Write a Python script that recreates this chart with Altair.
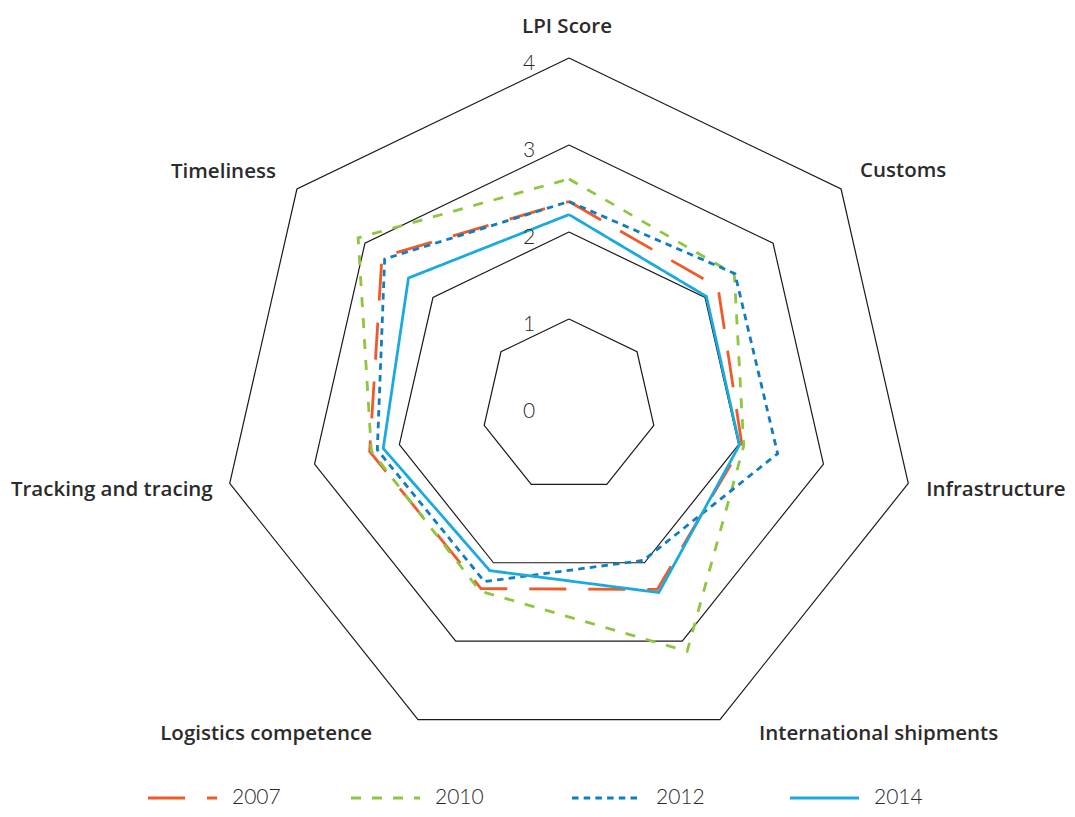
import altair as alt
import pandas as pd

# ---------------- data ----------------
AXES = ["LPI Score", "Customs", "Infrastructure", "International shipments",
        "Logistics competence", "Tracking and tracing", "Timeliness"]
YEARS = ["2007", "2010", "2012", "2014"]
V2007 = [2.35, 2.19, 2.04, 2.34, 2.33, 2.35, 2.75]
V2010 = [2.61, 2.43, 2.06, 3.13, 2.36, 2.33, 3.10]
V2012 = [2.35, 2.44, 2.46, 1.97, 2.24, 2.26, 2.71]
V2014 = [2.20, 2.02, 2.01, 2.38, 2.10, 2.19, 2.36]
GRID_LEVELS = [1, 2, 3, 4]
LEVEL_TICKS = [0, 1, 2, 3, 4]

# ---------------- style / layout ----------------
COLORS = ["#F05A28", "#8DC63F", "#0E7DC2", "#1AAAE0"]
DASHES = [[37, 22], [10, 11], [6.5, 5.2], [1, 0]]
W, H = 1059, 801
U = 87.0                 # pixels per score unit
CX, CY = 561.0, 398.0    # centre of the radar in svg pixels
XMIN, XMAX = -CX / U, (W - CX) / U
YMIN, YMAX = -(H - CY) / U, CY / U
FONT = "Lato"
LABEL_FONT = "Open Sans"
# per-label placement: (align, dx, dy) relative to the outer (4) vertex
LABEL_LAYOUT = {
    "LPI Score": ("center", -2, -31),
    "Customs": ("left", 19, -18),
    "Infrastructure": ("left", 18, 7),
    "International shipments": ("left", 39, 14),
    "Logistics competence": ("right", -46, 14),
    "Tracking and tracing": ("right", -17, 7),
    "Timeliness": ("right", -21, -17),
}
LEGEND_X = [140, 343, 564, 782]   # svg px where each legend symbol starts
LEGEND_SYM = 69
LEGEND_GAP = 15
LEGEND_Y = 790

# ---------------- tables ----------------
series_vals = [V2007, V2010, V2012, V2014]
rows = []
for y, vals in zip(YEARS, series_vals):
    for i in range(len(AXES) + 1):
        k = i % len(AXES)
        rows.append({"year": y, "i": i, "k": k, "v": vals[k]})
series_df = pd.DataFrame(rows)

grid_rows = []
for lv in GRID_LEVELS:
    for i in range(len(AXES) + 1):
        grid_rows.append({"level": lv, "i": i, "k": i % len(AXES), "v": lv})
grid_df = pd.DataFrame(grid_rows)

tick_df = pd.DataFrame({"r": LEVEL_TICKS, "t": [str(t) for t in LEVEL_TICKS]})
axis_df = pd.DataFrame({"axis": AXES, "k": list(range(len(AXES))), "v": [4] * len(AXES)})

legend_df = pd.DataFrame({
    "year": YEARS,
    "x0": [XMIN + x / U for x in LEGEND_X],
    "x1": [XMIN + (x + LEGEND_SYM) / U for x in LEGEND_X],
    "xt": [XMIN + (x + LEGEND_SYM + LEGEND_GAP) / U for x in LEGEND_X],
    "ly": [YMAX - LEGEND_Y / U] * len(YEARS),
})

xs = alt.Scale(domain=[XMIN, XMAX], nice=False, zero=False)
ys = alt.Scale(domain=[YMIN, YMAX], nice=False, zero=False)
cs = alt.Scale(domain=YEARS, range=COLORS)
ds = alt.Scale(domain=YEARS, range=DASHES)
N = len(AXES)
XEXPR = f"datum.v * sin(2 * PI * datum.k / {N})"
YEXPR = f"datum.v * cos(2 * PI * datum.k / {N})"

grid = alt.Chart(grid_df).transform_calculate(px=XEXPR, py=YEXPR).mark_line(
    color="#1a1a1a", strokeWidth=1.2
).encode(
    x=alt.X("px:Q", scale=xs, axis=None),
    y=alt.Y("py:Q", scale=ys, axis=None),
    detail="level:N",
    order="i:Q",
)

series = alt.Chart(series_df).transform_calculate(px=XEXPR, py=YEXPR).mark_line(
    strokeWidth=2.8
).encode(
    x=alt.X("px:Q", scale=xs, axis=None),
    y=alt.Y("py:Q", scale=ys, axis=None),
    color=alt.Color("year:N", scale=cs, legend=None),
    strokeDash=alt.StrokeDash("year:N", scale=ds, legend=None),
    order="i:Q",
)

ticks = alt.Chart(tick_df).transform_calculate(px="0").mark_text(
    font=FONT, fontSize=21, fontWeight=300, color="#2a2a2a",
    dx=-40, dy=6, baseline="middle", align="center"
).encode(
    x=alt.X("px:Q", scale=xs, axis=None),
    y=alt.Y("r:Q", scale=ys, axis=None),
    text="t:N",
)

label_layers = []
for name in AXES:
    al, dx, dy = LABEL_LAYOUT[name]
    label_layers.append(
        alt.Chart(axis_df).transform_filter(alt.datum.axis == name)
        .transform_calculate(px=XEXPR, py=YEXPR)
        .mark_text(font=LABEL_FONT, fontSize=20.5, fontWeight=600, color="#2b2b2b",
                   align=al, baseline="middle", dx=dx, dy=dy)
        .encode(
            x=alt.X("px:Q", scale=xs, axis=None),
            y=alt.Y("py:Q", scale=ys, axis=None),
            text="axis:N",
        )
    )

leg_sym = alt.Chart(legend_df).mark_rule(strokeWidth=2.8).encode(
    x=alt.X("x0:Q", scale=xs, axis=None),
    x2="x1:Q",
    y=alt.Y("ly:Q", scale=ys, axis=None),
    color=alt.Color("year:N", scale=cs, legend=None),
    strokeDash=alt.StrokeDash("year:N", scale=ds, legend=None),
)
leg_txt = alt.Chart(legend_df).mark_text(
    font=FONT, fontSize=21, fontWeight=300, color="#2a2a2a",
    align="left", baseline="middle"
).encode(
    x=alt.X("xt:Q", scale=xs, axis=None),
    y=alt.Y("ly:Q", scale=ys, axis=None),
    text="year:N",
)

chart = alt.layer(grid, series, ticks, *label_layers, leg_sym, leg_txt).properties(
    width=W, height=H, padding=0,
    autosize=alt.AutoSizeParams(type="none"),
    background="white",
).configure_view(strokeWidth=0)

chart.save("out.html", embed_options={"renderer": "svg", "actions": False})
